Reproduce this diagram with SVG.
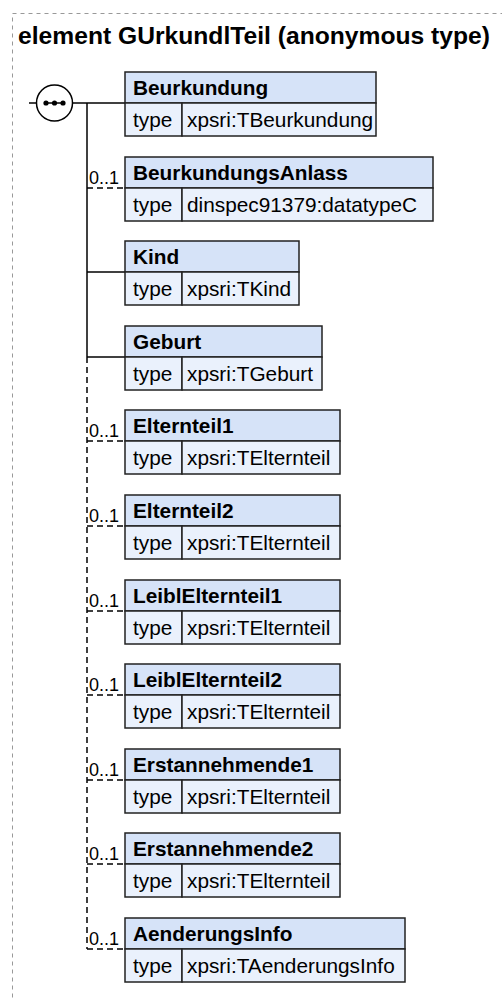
<svg xmlns="http://www.w3.org/2000/svg" width="502" height="999" viewBox="0 0 502 999">
<style>
.frame{fill:none;stroke:#999;stroke-width:1;stroke-dasharray:4,4}
.title{font-family:"Liberation Sans",Arial,sans-serif;font-weight:bold;font-size:23px;fill:#000}
.hd{fill:#d6e3f8;stroke:#222;stroke-width:1.5}
.tr{fill:#eaf1fc;stroke:#222;stroke-width:1.5}
.name{font-family:"Liberation Sans",Arial,sans-serif;font-weight:bold;font-size:20.8px;fill:#000}
.txt{font-family:"Liberation Sans",Arial,sans-serif;font-size:20.8px;fill:#000}
.occ{font-family:"Liberation Sans",Arial,sans-serif;font-size:18px;fill:#000}
.ln{fill:none;stroke:#000;stroke-width:1.5}
.dl{fill:none;stroke:#000;stroke-width:1.5;stroke-dasharray:6,4}
</style>
<rect class="frame" x="12.5" y="13.5" width="500" height="1000"/>
<text class="title" x="18" y="44" textLength="472" lengthAdjust="spacingAndGlyphs">element GUrkundlTeil (anonymous type)</text>

<g id="connectors">
  <line class="ln" x1="29" y1="103" x2="36" y2="103"/>
  <line class="ln" x1="73" y1="103" x2="125" y2="103"/>
  <line class="ln" x1="87" y1="103" x2="87" y2="357"/>
  <line class="dl" x1="87" y1="357" x2="87" y2="949"/>
  <line class="dl" x1="87" y1="188" x2="125" y2="188"/>
  <line class="ln" x1="87" y1="272" x2="125" y2="272"/>
  <line class="ln" x1="87" y1="357" x2="125" y2="357"/>
  <line class="dl" x1="87" y1="441" x2="125" y2="441"/>
  <line class="dl" x1="87" y1="526" x2="125" y2="526"/>
  <line class="dl" x1="87" y1="611" x2="125" y2="611"/>
  <line class="dl" x1="87" y1="695" x2="125" y2="695"/>
  <line class="dl" x1="87" y1="780" x2="125" y2="780"/>
  <line class="dl" x1="87" y1="864" x2="125" y2="864"/>
  <line class="dl" x1="87" y1="949" x2="125" y2="949"/>
  <text class="occ" x="89" y="184">0..1</text>
  <text class="occ" x="89" y="437">0..1</text>
  <text class="occ" x="89" y="522">0..1</text>
  <text class="occ" x="89" y="607">0..1</text>
  <text class="occ" x="89" y="691">0..1</text>
  <text class="occ" x="89" y="776">0..1</text>
  <text class="occ" x="89" y="860">0..1</text>
  <text class="occ" x="89" y="945">0..1</text>
</g>

<g id="sequence">
  <circle cx="54.5" cy="103" r="18" fill="#fff" stroke="#000" stroke-width="1.5"/>
  <line x1="46" y1="103" x2="63" y2="103" stroke="#000" stroke-width="1.5"/>
  <circle cx="46" cy="103" r="2.6"/>
  <circle cx="54.5" cy="103" r="2.6"/>
  <circle cx="63" cy="103" r="2.6"/>
</g>

<g id="Beurkundung">
  <rect class="hd" x="125" y="72" width="251" height="31"/>
  <rect class="tr" x="125" y="103" width="57" height="33"/>
  <rect class="tr" x="182" y="103" width="194" height="33"/>
  <text class="name" x="133" y="95">Beurkundung</text>
  <text class="txt" x="133" y="127">type</text>
  <text class="txt" x="187" y="127">xpsri:TBeurkundung</text>
</g>
<g id="BeurkundungsAnlass">
  <rect class="hd" x="125" y="157" width="308" height="31"/>
  <rect class="tr" x="125" y="188" width="57" height="33"/>
  <rect class="tr" x="182" y="188" width="251" height="33"/>
  <text class="name" x="133" y="180">BeurkundungsAnlass</text>
  <text class="txt" x="133" y="212">type</text>
  <text class="txt" x="187" y="212">dinspec91379:datatypeC</text>
</g>
<g id="Kind">
  <rect class="hd" x="125" y="241" width="174" height="31"/>
  <rect class="tr" x="125" y="272" width="57" height="33"/>
  <rect class="tr" x="182" y="272" width="117" height="33"/>
  <text class="name" x="133" y="264">Kind</text>
  <text class="txt" x="133" y="296">type</text>
  <text class="txt" x="187" y="296">xpsri:TKind</text>
</g>
<g id="Geburt">
  <rect class="hd" x="125" y="326" width="197" height="31"/>
  <rect class="tr" x="125" y="357" width="57" height="33"/>
  <rect class="tr" x="182" y="357" width="140" height="33"/>
  <text class="name" x="133" y="349">Geburt</text>
  <text class="txt" x="133" y="381">type</text>
  <text class="txt" x="187" y="381">xpsri:TGeburt</text>
</g>
<g id="Elternteil1">
  <rect class="hd" x="125" y="410" width="215" height="31"/>
  <rect class="tr" x="125" y="441" width="57" height="33"/>
  <rect class="tr" x="182" y="441" width="158" height="33"/>
  <text class="name" x="133" y="433">Elternteil1</text>
  <text class="txt" x="133" y="465">type</text>
  <text class="txt" x="187" y="465">xpsri:TElternteil</text>
</g>
<g id="Elternteil2">
  <rect class="hd" x="125" y="495" width="215" height="31"/>
  <rect class="tr" x="125" y="526" width="57" height="33"/>
  <rect class="tr" x="182" y="526" width="158" height="33"/>
  <text class="name" x="133" y="518">Elternteil2</text>
  <text class="txt" x="133" y="550">type</text>
  <text class="txt" x="187" y="550">xpsri:TElternteil</text>
</g>
<g id="LeiblElternteil1">
  <rect class="hd" x="125" y="580" width="215" height="31"/>
  <rect class="tr" x="125" y="611" width="57" height="33"/>
  <rect class="tr" x="182" y="611" width="158" height="33"/>
  <text class="name" x="133" y="603">LeiblElternteil1</text>
  <text class="txt" x="133" y="635">type</text>
  <text class="txt" x="187" y="635">xpsri:TElternteil</text>
</g>
<g id="LeiblElternteil2">
  <rect class="hd" x="125" y="664" width="215" height="31"/>
  <rect class="tr" x="125" y="695" width="57" height="33"/>
  <rect class="tr" x="182" y="695" width="158" height="33"/>
  <text class="name" x="133" y="687">LeiblElternteil2</text>
  <text class="txt" x="133" y="719">type</text>
  <text class="txt" x="187" y="719">xpsri:TElternteil</text>
</g>
<g id="Erstannehmende1">
  <rect class="hd" x="125" y="749" width="215" height="31"/>
  <rect class="tr" x="125" y="780" width="57" height="33"/>
  <rect class="tr" x="182" y="780" width="158" height="33"/>
  <text class="name" x="133" y="772">Erstannehmende1</text>
  <text class="txt" x="133" y="804">type</text>
  <text class="txt" x="187" y="804">xpsri:TElternteil</text>
</g>
<g id="Erstannehmende2">
  <rect class="hd" x="125" y="833" width="215" height="31"/>
  <rect class="tr" x="125" y="864" width="57" height="33"/>
  <rect class="tr" x="182" y="864" width="158" height="33"/>
  <text class="name" x="133" y="856">Erstannehmende2</text>
  <text class="txt" x="133" y="888">type</text>
  <text class="txt" x="187" y="888">xpsri:TElternteil</text>
</g>
<g id="AenderungsInfo">
  <rect class="hd" x="125" y="918" width="280" height="31"/>
  <rect class="tr" x="125" y="949" width="57" height="33"/>
  <rect class="tr" x="182" y="949" width="223" height="33"/>
  <text class="name" x="133" y="941">AenderungsInfo</text>
  <text class="txt" x="133" y="973">type</text>
  <text class="txt" x="187" y="973">xpsri:TAenderungsInfo</text>
</g>
</svg>
